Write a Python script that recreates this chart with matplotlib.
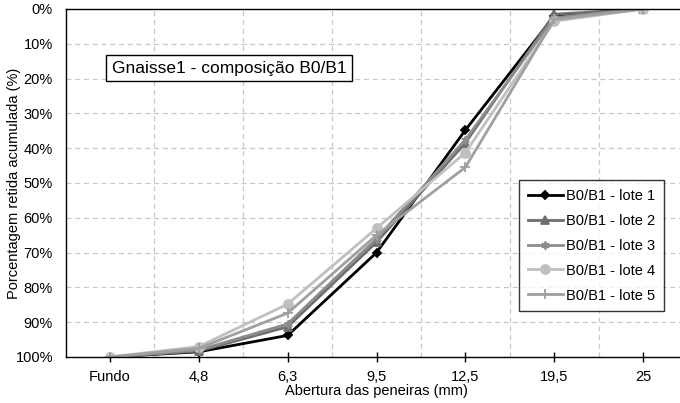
import matplotlib.pyplot as plt
import numpy as np
from matplotlib.ticker import FuncFormatter

plt.rcParams['font.family'] = ['Liberation Sans', 'DejaVu Sans']

peneiras = ["Fundo", "4,8", "6,3", "9,5", "12,5", "19,5", "25"]
lote1 = [100, 98.5, 93.8, 70.0, 34.8, 2.0, 0]
lote2 = [100, 98.3, 91.3, 67.0, 38.5, 1.5, 0]
lote3 = [100, 98.0, 90.5, 66.0, 37.6, 2.5, 0]
lote4 = [100, 97.0, 84.8, 63.0, 41.3, 3.5, 0]
lote5 = [100, 97.5, 87.4, 65.0, 45.5, 3.0, 0]

series = [
    ("B0/B1 - lote 1", lote1, '#000000', 'D', 4.5),
    ("B0/B1 - lote 2", lote2, '#6e6e6e', '^', 5.5),
    ("B0/B1 - lote 3", lote3, '#8c8c8c', (6, 2, 0), 6),
    ("B0/B1 - lote 4", lote4, '#c0c0c0', 'o', 6.5),
    ("B0/B1 - lote 5", lote5, '#a0a0a0', '+', 7),
]

fig = plt.figure(figsize=(6.8, 4.03), dpi=100)
ax = fig.add_axes([65.5 / 680, 1 - 357 / 403, 622 / 680, 348 / 403])

x = np.arange(len(peneiras))
for label, vals, color, marker, ms in series:
    ax.plot(x, vals, color=color, marker=marker, markersize=ms,
            linewidth=2, label=label, markeredgewidth=1.3)

ax.set_xlim(-0.5, len(peneiras) - 0.5)
ax.set_ylim(100, 0)
ax.set_yticks(np.arange(0, 101, 10))
ax.yaxis.set_major_formatter(FuncFormatter(lambda v, p: "%d%%" % v))
ax.set_xticks(x)
ax.set_xticklabels(peneiras)
ax.set_xticks(x[:-1] + 0.5, minor=True)

ax.grid(axis='y', which='major', color='#c8c8c8', linestyle=(0, (4, 3)), linewidth=0.9)
ax.grid(axis='x', which='minor', color='#c8c8c8', linestyle=(0, (4, 3)), linewidth=0.9)
ax.set_axisbelow(True)

ax.tick_params(axis='x', which='major', direction='inout', length=7, width=1, labelsize=10.5, pad=6)
ax.tick_params(axis='x', which='minor', length=0)
ax.tick_params(axis='y', length=0, labelsize=10.5, pad=9)

for s in ['left', 'bottom', 'top', 'right']:
    ax.spines[s].set_color('black')
    ax.spines[s].set_linewidth(1)

ax.set_xlabel("Abertura das peneiras (mm)", fontsize=10.5, labelpad=0)
ax.set_ylabel("Porcentagem retida acumulada (%)", fontsize=10.5)
ax.yaxis.set_label_coords((21 - 65.5) / 622, 0.5)

fig.text(229 / 680, 1 - 68 / 403, "Gnaisse1 - composição B0/B1", fontsize=12.5,
         ha='center', va='center',
         bbox=dict(boxstyle='square,pad=0.3', facecolor='white', edgecolor='black', linewidth=1))

leg = ax.legend(loc='upper left', bbox_to_anchor=(519 / 680, 1 - 180 / 403),
                bbox_transform=fig.transFigure, fontsize=10.5, frameon=True,
                fancybox=False, edgecolor='black', handlelength=2.4,
                handletextpad=0.2, borderpad=0.6, labelspacing=0.75, borderaxespad=0)
leg.get_frame().set_linewidth(1)

fig.savefig("out.png", dpi=100)
